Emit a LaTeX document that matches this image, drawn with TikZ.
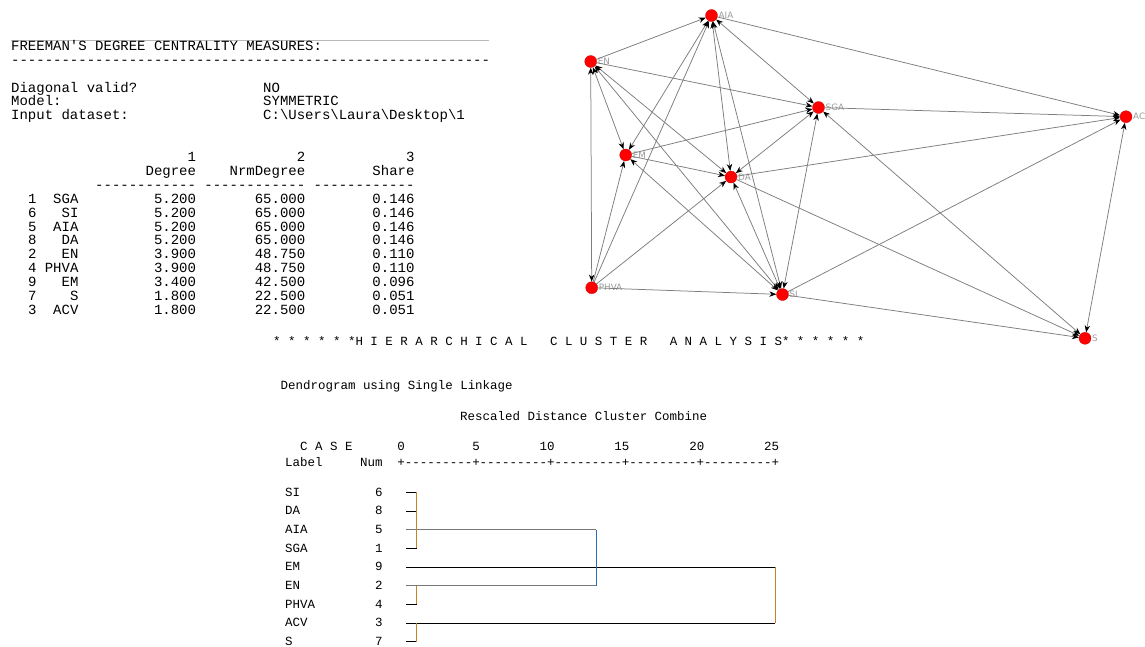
\documentclass[tikz,border=0pt]{standalone}
\usepackage{fontspec}
\setmonofont{Liberation Mono}
\newfontfamily\lblfont{DejaVu Sans}
\usetikzlibrary{arrows.meta}
\newcommand\sk[1]{\hspace*{#1\fontcharwd\font`M}}
\newcommand\bs{\textbackslash}
\newcommand\trow[6]{\sk{2}#1\sk{#2}#3\sk{9}#4\sk{7}#5\sk{8}#6}
\definecolor{edgegray}{RGB}{125,125,125}
\definecolor{dorange}{RGB}{201,128,42}
\definecolor{dblue}{RGB}{38,110,182}
\definecolor{lblgray}{RGB}{155,155,155}
\definecolor{rulegray}{RGB}{185,185,185}
\definecolor{dgray}{RGB}{120,120,120}
\begin{document}
\begin{tikzpicture}[x=1pt,y=-1pt,
  txt/.style={anchor=base west,inner sep=0pt,font=\ttfamily\fontsize{14}{14}\selectfont},
  dtxt/.style={anchor=base west,inner sep=0pt,font=\ttfamily\fontsize{12.47}{12.47}\selectfont},
  vtx/.style={circle,fill=red,draw={rgb,255:red,205;green,0;blue,0},line width=0.3pt,minimum size=12pt,inner sep=0pt},
  lbl/.style={font=\lblfont\fontsize{8.8}{8.8}\selectfont,text=lblgray,inner sep=0.5pt},
  label distance=0.3pt,
  edge/.style={draw=edgegray,line width=0.75pt},
  >={Stealth[length=7pt,width=5.5pt,color=black]},
  stub/.style={draw=black,line width=0.8pt},
  longg/.style={draw=dgray,line width=0.8pt},
  vorange/.style={draw=dorange,line width=0.9pt},
  vblue/.style={draw=dblue,line width=0.9pt}
]
\useasboundingbox (0,0) rectangle (1145,646);
\fill[white] (0,0) rectangle (1145,646);
\clip (0,0) rectangle (1145,646);

% ---------- Freeman table ----------
\draw[rulegray,line width=0.6pt] (11,40) coordinate (rl) -- (489,40) coordinate (rr);
\node[txt] (t0) at (11,50.3) {FREEMAN'S DEGREE CENTRALITY MEASURES:};
\node[txt] (t1) at (11,64.2) {---------------------------------------------------------};
\node[txt] (t3) at (11,92) {Diagonal valid?\sk{15}NO};
\node[txt] (t4) at (11,105.9) {Model:\sk{24}SYMMETRIC};
\node[txt] (t5) at (11,119.8) {Input dataset:\sk{16}C:\bs Users\bs Laura\bs Desktop\bs 1};
\node[txt] (t8) at (11,161.5) {\sk{21}1\sk{12}2\sk{12}3};
\node[txt] (t9) at (11,175.4) {\sk{16}Degree\sk{4}NrmDegree\sk{8}Share};
\node[txt] (t10) at (11,189.3) {\sk{10}------------\sk{1}------------\sk{1}------------};
\node[txt] (r1) at (11,203.2) {\trow{1}{2}{SGA}{5.200}{65.000}{0.146}};
\node[txt] (r2) at (11,217.1) {\trow{6}{3}{SI}{5.200}{65.000}{0.146}};
\node[txt] (r3) at (11,231.0) {\trow{5}{2}{AIA}{5.200}{65.000}{0.146}};
\node[txt] (r4) at (11,244.9) {\trow{8}{3}{DA}{5.200}{65.000}{0.146}};
\node[txt] (r5) at (11,258.8) {\trow{2}{3}{EN}{3.900}{48.750}{0.110}};
\node[txt] (r6) at (11,272.7) {\trow{4}{1}{PHVA}{3.900}{48.750}{0.110}};
\node[txt] (r7) at (11,286.6) {\trow{9}{3}{EM}{3.400}{42.500}{0.096}};
\node[txt] (r8) at (11,300.5) {\trow{7}{4}{S}{1.800}{22.500}{0.051}};
\node[txt] (r9) at (11,314.4) {\trow{3}{2}{ACV}{1.800}{22.500}{0.051}};

% ---------- Network ----------
\node[vtx,label={[lbl]right:AIA}] (AIA) at (711.5,15.5) {};
\node[vtx,label={[lbl]right:EN}] (EN) at (590.7,61.5) {};
\node[vtx,label={[lbl]right:SGA}] (SGA) at (818.5,107.5) {};
\node[vtx,label={[lbl]right:ACV}] (ACV) at (1126,116.7) {};
\node[vtx,label={[lbl]right:EM}] (EM) at (625.7,155) {};
\node[vtx,label={[lbl]right:DA}] (DA) at (731,177) {};
\node[vtx,label={[lbl]right:PHVA}] (PHVA) at (591.7,287.7) {};
\node[vtx,label={[lbl]right:SI}] (SI) at (782.5,294.5) {};
\node[vtx,label={[lbl]right:S}] (S) at (1085,338.3) {};

\draw[edge,->] (EN) -- (AIA);
\draw[edge,<->] (AIA) -- (EM);
\draw[edge,->] (PHVA) -- (AIA);
\draw[edge,<->] (AIA) -- (DA);
\draw[edge,<->] (AIA) -- (SI);
\draw[edge,<->] (AIA) -- (SGA);
\draw[edge,->] (AIA) -- (ACV);
\draw[edge,->] (EN) -- (SGA);
\draw[edge,<->] (EN) -- (EM);
\draw[edge,<->] (EN) -- (PHVA);
\draw[edge,<->] (EN) -- (DA);
\draw[edge,<->] (EN) -- (SI);
\draw[edge,->] (SGA) -- (ACV);
\draw[edge,->] (EM) -- (SGA);
\draw[edge,<->] (DA) -- (SGA);
\draw[edge,<->] (SI) -- (SGA);
\draw[edge,<->] (SGA) -- (S);
\draw[edge,->] (DA) -- (ACV);
\draw[edge,->] (SI) -- (ACV);
\draw[edge,<->] (ACV) -- (S);
\draw[edge,->] (EM) -- (DA);
\draw[edge,<->] (SI) -- (EM);
\draw[edge,->] (PHVA) -- (EM);
\draw[edge,->] (PHVA) -- (DA);
\draw[edge,<->] (DA) -- (SI);
\draw[edge,->] (DA) -- (S);
\draw[edge,->] (PHVA) -- (SI);
\draw[edge,->] (SI) -- (S);

% ---------- Cluster analysis ----------
\node[dtxt] (hca) at (273,345.5) {* * * * * *H I E R A R C H I C A L\sk{3}C L U S T E R\sk{3}A N A L Y S I S* * * * * *};
\node[dtxt] (dend) at (280.5,389) {Dendrogram using Single Linkage};
\node[dtxt] (resc) at (460,420) {Rescaled Distance Cluster Combine};
\node[dtxt] (case) at (285,450.2) {\sk{2}C A S E\sk{6}0\sk{9}5\sk{8}10\sk{8}15\sk{8}20\sk{8}25};
\node[dtxt] (axis) at (285,466) {Label\sk{5}Num\sk{2}+---------+---------+---------+---------+---------+};

\foreach \lab/\num/\yy [count=\i] in {SI/6/492.3, DA/8/511, AIA/5/529.7, SGA/1/548.3, EM/9/567, EN/2/585.7, PHVA/4/604.3, ACV/3/623, S/7/641.7}{
  \node[dtxt] (dl\i) at (285,\yy+3.8) {\lab};
  \node[dtxt] (dn\i) at (374.8,\yy+3.8) {\num};
  \coordinate (a\i) at (406,\yy);
  \coordinate (b\i) at (416.7,\yy);
  \coordinate (m\i) at (596,\yy);
  \coordinate (e\i) at (775,\yy);
}
% stubs
\draw[stub] (a1) -- (b1);
\draw[stub] (a2) -- (b2);
\draw[stub] (a4) -- (b4);
\draw[stub] (a7) -- (b7);
\draw[stub] (a9) -- (b9);
% long horizontals
\draw[longg] (a3) -- (m3);
\draw[longg] (a6) -- (m6);
\draw[stub] (a5) -- (e5);
\draw[stub] (a8) -- (e8);
% verticals
\draw[vorange] (b1) -- (b4);
\draw[vorange] (b6) -- (b7);
\draw[vorange] (b8) -- (b9);
\draw[vblue] (m3) -- (m6);
\draw[vorange] (e5) -- (e8);
\end{tikzpicture}
\end{document}
